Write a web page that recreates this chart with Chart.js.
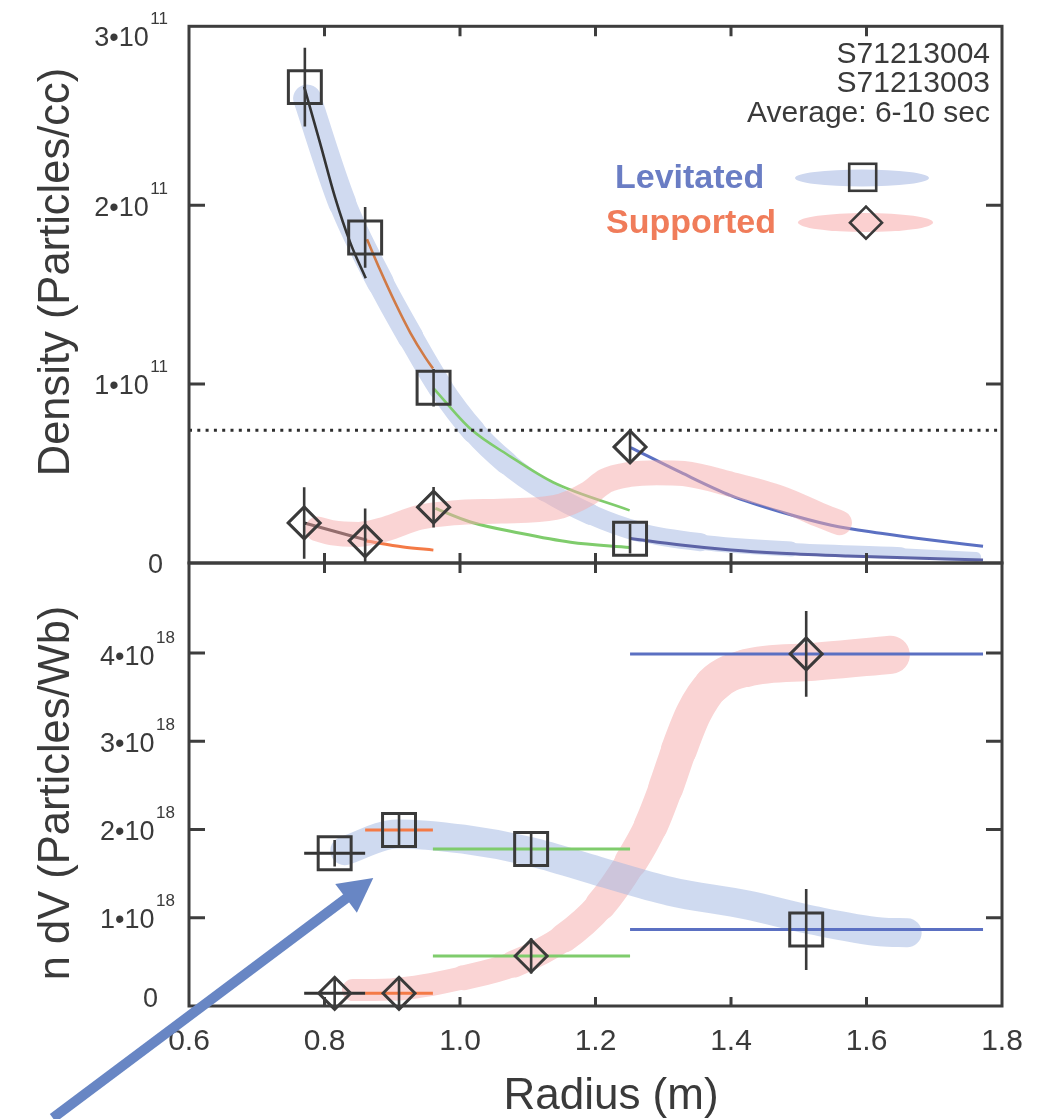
<!DOCTYPE html>
<html><head><meta charset="utf-8">
<script src="https://cdn.jsdelivr.net/npm/chart.js@4.4.1/dist/chart.umd.min.js"></script>
<style>
html,body{margin:0;padding:0;background:#fff;}
#wrap{position:relative;width:1048px;height:1119px;overflow:hidden;}
#wrap canvas{position:absolute;left:0;top:0;}
</style></head><body>
<div id="wrap"><canvas id="cTop" width="1048" height="1119"></canvas><canvas id="cBot" width="1048" height="1119"></canvas></div>
<script>
// ================= DATA =================
const xTicks = [0.6, 0.8, 1.0, 1.2, 1.4, 1.6, 1.8];
const xTickLabels = ['0.6', '0.8', '1.0', '1.2', '1.4', '1.6', '1.8'];
const densTicks = [0, 1e11, 2e11, 3e11];
const densTickMant = ['0', '1•10', '2•10', '3•10'];
const densTickExp = ['', '11', '11', '11'];
const ndvTicks = [0, 1e18, 2e18, 3e18, 4e18];
const ndvTickMant = ['0', '1•10', '2•10', '3•10', '4•10'];
const ndvTickExp = ['', '18', '18', '18', '18'];

// --- top panel: density (particles/cc) ---
const levR = [0.771, 0.860, 0.961, 1.251];
const levDens = [2.66e11, 1.82e11, 0.98e11, 0.136e11];
const levDensErr = [0.22e11, 0.17e11, 0.105e11, 0.083e11];
const supR = [0.770, 0.860, 0.961, 1.251];
const supDens = [0.224e11, 0.124e11, 0.312e11, 0.649e11];
const supDensErr = [0.20e11, 0.18e11, 0.113e11, 0.09e11];
const densThreshold = 0.742e11;

const fitLev1R = [0.770, 0.7936, 0.8158, 0.838, 0.8609];
const fitLev1N = [2.662e11, 2.346e11, 2.041e11, 1.791e11, 1.592e11];
const fitLev2R = [0.8627, 0.8823, 0.9045, 0.9267, 0.9489, 0.9602];
const fitLev2N = [1.810e11, 1.636e11, 1.453e11, 1.287e11, 1.148e11, 1.087e11];
const fitLev3R = [0.9607, 1.0154, 1.0745, 1.138, 1.2504];
const fitLev3N = [0.978e11, 0.75e11, 0.595e11, 0.45e11, 0.294e11];
const fitLev4R = [1.252, 1.326, 1.400, 1.474, 1.572, 1.772];
const fitLev4N = [0.137e11, 0.100e11, 0.072e11, 0.054e11, 0.039e11, 0.017e11];
const fitSup1R = [0.7704, 0.8627];
const fitSup1N = [0.2235e11, 0.1276e11];
const fitSup2R = [0.8602, 0.9163, 0.9607];
const fitSup2N = [0.124e11, 0.090e11, 0.072e11];
const fitSup3R = [0.9636, 1.0154, 1.0893, 1.1632, 1.2504];
const fitSup3N = [0.305e11, 0.229e11, 0.166e11, 0.116e11, 0.087e11];
const fitSup4R = [1.252, 1.326, 1.400, 1.474, 1.548, 1.621, 1.695, 1.772];
const fitSup4N = [0.645e11, 0.506e11, 0.377e11, 0.285e11, 0.211e11, 0.166e11, 0.128e11, 0.094e11];

const bandLevTopR = [0.7744, 0.8262, 0.8823, 0.9267, 0.971, 1.0198, 1.0686, 1.1262, 1.1928, 1.2667, 1.3554, 1.4884, 1.651, 1.7619];
const bandLevTopN = [2.596e11, 2.013e11, 1.570e11, 1.265e11, 0.982e11, 0.738e11, 0.560e11, 0.405e11, 0.272e11, 0.172e11, 0.116e11, 0.078e11, 0.055e11, 0.033e11];
const bandSupTopR = [0.79, 0.81, 0.85, 0.89, 0.94, 0.99, 1.06, 1.14, 1.19, 1.215, 1.25, 1.29, 1.33, 1.40, 1.474, 1.53, 1.56];
const bandSupTopN = [0.19e11, 0.17e11, 0.16e11, 0.19e11, 0.255e11, 0.28e11, 0.29e11, 0.31e11, 0.39e11, 0.46e11, 0.495e11, 0.505e11, 0.50e11, 0.44e11, 0.36e11, 0.27e11, 0.225e11];

// --- bottom panel: n dV (particles/Wb) ---
const binLo = [0.770, 0.860, 0.960, 1.251];
const binHi = [0.860, 0.960, 1.251, 1.772];
const binMid = [0.815, 0.910, 1.105, 1.511];
const levNdv = [1.73e18, 1.995e18, 1.78e18, 0.867e18];
const levNdvErr = [0.15e18, 0.17e18, 0.19e18, 0.46e18];
const supNdv = [0.144e18, 0.144e18, 0.567e18, 3.99e18];
const supNdvErr = [0.16e18, 0.16e18, 0.20e18, 0.485e18];

const bandLevBotR = [0.83, 0.907, 1.005, 1.104, 1.203, 1.31, 1.424, 1.522, 1.621, 1.66];
const bandLevBotN = [1.76e18, 1.95e18, 1.89e18, 1.75e18, 1.53e18, 1.30e18, 1.145e18, 0.97e18, 0.84e18, 0.83e18];
const bandSupBotR = [0.842, 0.907, 1.005, 1.079, 1.153, 1.2075, 1.252, 1.2815, 1.3036, 1.323, 1.345, 1.373, 1.422, 1.522, 1.636];
const bandSupBotN = [0.18e18, 0.19e18, 0.32e18, 0.475e18, 0.77e18, 1.145e18, 1.63e18, 2.04e18, 2.47e18, 2.90e18, 3.32e18, 3.64e18, 3.83e18, 3.90e18, 3.98e18];

const arrowFrom = [0.399, -1.27e18];
const arrowTo = [0.872, 1.45e18];

// ================= STYLE =================
const FONT = '"Liberation Sans", Arial, Helvetica, sans-serif';
const AXC = '#3d3d3d';
const TXT = '#3a3a3a';
const MK = '#3a3a3a';
const C_BLACK = '#333333', C_ORANGE = '#f47a46', C_GREEN = '#7fcc6c', C_BLUE = '#5b70c2', C_SLATE = '#5c63a6';
const binColors = [C_BLACK, C_ORANGE, C_GREEN, C_BLUE];
const BAND_BLUE = 'rgb(208,218,240)';
const BAND_PINK = 'rgb(250,212,212)';
const BAND_BLUE_A = 'rgba(160,182,226,0.5)';
const BAND_PINK_A = 'rgba(245,170,170,0.5)';
const levTopBandW = [28, 27, 26, 25, 24, 23, 22, 21, 20, 18, 15, 12, 10];
const supBotBandW = [22, 23, 25, 27, 29, 31, 33, 34, 35, 36, 36, 37, 38, 38];

const pts = (xs, ys) => xs.map((x, i) => ({x, y: ys[i]}));
const vbars = (xs, ys, es) => xs.flatMap((x, i) => [{x, y: ys[i] - es[i]}, {x, y: ys[i] + es[i]}, {x, y: null}]);

function fitLine(xs, ys, color, width) {
  return {data: pts(xs, ys), borderColor: color, borderWidth: width || 2.6, pointRadius: 0,
    cubicInterpolationMode: 'monotone', fill: false, order: 5, clip: 0};
}
function band(xs, ys, color, width, opts) {
  return Object.assign({data: pts(xs, ys), borderColor: color, borderWidth: width, pointRadius: 0,
    borderCapStyle: 'round', borderJoinStyle: 'round', cubicInterpolationMode: 'monotone',
    fill: false, clip: 0}, opts || {});
}
function markers(xs, ys, style, radius) {
  return {data: pts(xs, ys), showLine: false, pointStyle: style, pointRadius: radius, pointHoverRadius: radius,
    pointBorderWidth: 3, pointBorderColor: MK, pointBackgroundColor: 'rgba(0,0,0,0)', order: 0, clip: false};
}
function errLine(data, color, clip) {
  return {data, borderColor: color, borderWidth: 2.6, pointRadius: 0, spanGaps: false, tension: 0,
    fill: false, order: 1, clip: clip};
}

const compositePlugin = {
  id: 'composite',
  beforeDatasetDraw(chart, args) {
    const ds = chart.data.datasets[args.index];
    if (ds.composite) { chart.ctx.save(); chart.ctx.globalCompositeOperation = ds.composite; }
  },
  afterDatasetDraw(chart, args) {
    const ds = chart.data.datasets[args.index];
    if (ds.composite) chart.ctx.restore();
  }
};

function drawFrame(chart, cfg) {
  const {ctx, chartArea: a} = chart;
  const x = chart.scales.x, y = chart.scales.y;
  ctx.save();
  ctx.strokeStyle = AXC; ctx.lineWidth = 3; ctx.lineCap = 'butt';
  ctx.strokeRect(a.left, a.top, a.right - a.left, a.bottom - a.top);
  ctx.beginPath();
  xTicks.forEach(v => {
    const px = x.getPixelForValue(v);
    if (px <= a.left + 2 || px >= a.right - 2) return;
    ctx.moveTo(px, a.top); ctx.lineTo(px, a.top + cfg.tickTop);
    ctx.moveTo(px, a.bottom); ctx.lineTo(px, a.bottom - cfg.tickBot);
  });
  cfg.yTicks.forEach(v => {
    const py = y.getPixelForValue(v);
    if (py <= a.top + 2 || py >= a.bottom - 2) return;
    ctx.moveTo(a.left, py); ctx.lineTo(a.left + 16, py);
    ctx.moveTo(a.right, py); ctx.lineTo(a.right - 16, py);
  });
  ctx.stroke();
  // y tick labels with superscript exponent
  ctx.fillStyle = TXT; ctx.textBaseline = 'alphabetic'; ctx.textAlign = 'left';
  cfg.yTicks.forEach((v, i) => {
    const py = y.getPixelForValue(v) + cfg.yOff[i];
    const mant = cfg.mant[i], ex = cfg.exp[i];
    ctx.font = '27px ' + FONT;
    const wm = ctx.measureText(mant).width;
    if (!ex) { ctx.fillText(mant, cfg.zeroRight - wm, py + 9.7); return; }
    ctx.font = '17px ' + FONT;
    const we = ctx.measureText(ex).width;
    const x0 = cfg.labelRight - we - 1.5 - wm;
    ctx.font = '27px ' + FONT;
    ctx.fillText(mant, x0, py + 9.7);
    ctx.font = '17px ' + FONT;
    ctx.fillText(ex, x0 + wm + 1.5, py + 9.7 - 22);
  });
  // y title
  ctx.save();
  ctx.translate(69, cfg.titleY);
  ctx.rotate(-Math.PI / 2);
  ctx.font = '43.5px ' + FONT; ctx.textAlign = 'center';
  ctx.fillText(cfg.title, 0, 0);
  ctx.restore();
  ctx.restore();
}

const topDecor = {
  id: 'topDecor',
  afterDraw(chart) {
    drawFrame(chart, {tickTop: 10, tickBot: 10, yTicks: densTicks, mant: densTickMant, exp: densTickExp,
      yOff: [0.5, 0, 1.5, 9.5], labelRight: 168, zeroRight: 163, title: 'Density (Particles/cc)', titleY: 272});
    const ctx = chart.ctx;
    ctx.save();
    ctx.fillStyle = TXT; ctx.textAlign = 'right'; ctx.textBaseline = 'alphabetic';
    ctx.font = '30px ' + FONT;
    ctx.fillText('S71213004', 990, 62.5);
    ctx.fillText('S71213003', 990, 91.5);
    ctx.fillText('Average: 6-10 sec', 990, 121.5);
    // legend
    ctx.fillStyle = '#cdd7ef';
    ctx.beginPath(); ctx.ellipse(862, 178, 67, 8.5, 0, 0, Math.PI * 2); ctx.fill();
    ctx.fillStyle = '#fbd0d0';
    ctx.beginPath(); ctx.ellipse(865.5, 222.5, 67.5, 9.5, 0, 0, Math.PI * 2); ctx.fill();
    ctx.strokeStyle = MK; ctx.lineWidth = 2.6;
    ctx.strokeRect(849.2, 163.8, 27, 27);
    ctx.beginPath(); ctx.moveTo(850, 222.7); ctx.lineTo(866, 206.7); ctx.lineTo(882, 222.7); ctx.lineTo(866, 238.7); ctx.closePath(); ctx.stroke();
    ctx.textAlign = 'left'; ctx.font = 'bold 34px ' + FONT;
    ctx.fillStyle = '#6a7dc4'; ctx.fillText('Levitated', 615, 188);
    ctx.fillStyle = '#f07c5a'; ctx.fillText('Supported', 606, 233);
    ctx.restore();
  }
};

const botDecor = {
  id: 'botDecor',
  afterDraw(chart) {
    drawFrame(chart, {tickTop: 10, tickBot: 9, yTicks: ndvTicks, mant: ndvTickMant, exp: ndvTickExp,
      yOff: [-8.5, 0.5, 0.5, 1.5, 2.5], labelRight: 175, zeroRight: 158, title: 'n dV (Particles/Wb)', titleY: 793});
    const ctx = chart.ctx, x = chart.scales.x, y = chart.scales.y;
    ctx.save();
    ctx.fillStyle = TXT; ctx.textAlign = 'center'; ctx.textBaseline = 'alphabetic';
    ctx.font = '30px ' + FONT;
    xTicks.forEach((v, i) => ctx.fillText(xTickLabels[i], x.getPixelForValue(v), 1050));
    ctx.font = '44px ' + FONT;
    ctx.fillText('Radius (m)', 611, 1109);
    // arrow annotation
    const x0 = x.getPixelForValue(arrowFrom[0]), y0 = y.getPixelForValue(arrowFrom[1]);
    const x1 = x.getPixelForValue(arrowTo[0]), y1 = y.getPixelForValue(arrowTo[1]);
    const ang = Math.atan2(y1 - y0, x1 - x0);
    const hl = 34, hw = 18;
    const bx = x1 - hl * Math.cos(ang), by = y1 - hl * Math.sin(ang);
    ctx.strokeStyle = '#6886c4'; ctx.fillStyle = '#6886c4'; ctx.lineWidth = 10; ctx.lineCap = 'butt';
    ctx.beginPath(); ctx.moveTo(x0, y0); ctx.lineTo(bx + 2 * Math.cos(ang), by + 2 * Math.sin(ang)); ctx.stroke();
    ctx.beginPath();
    ctx.moveTo(x1, y1);
    ctx.lineTo(bx + hw * Math.sin(ang), by - hw * Math.cos(ang));
    ctx.lineTo(bx - hw * Math.sin(ang), by + hw * Math.cos(ang));
    ctx.closePath(); ctx.fill();
    ctx.restore();
  }
};

const baseOpts = (pad, ymax) => ({
  responsive: false, animation: false, devicePixelRatio: 1, events: [],
  layout: {padding: pad},
  plugins: {legend: {display: false}, tooltip: {enabled: false}},
  scales: {
    x: {type: 'linear', min: 0.6, max: 1.8, display: false},
    y: {type: 'linear', min: 0, max: ymax, display: false}
  }
});

// ----- top chart -----
new Chart(document.getElementById('cTop'), {
  type: 'line',
  data: {datasets: [
    fitLine(fitLev1R, fitLev1N, C_BLACK),
    fitLine(fitLev2R, fitLev2N, C_ORANGE),
    fitLine(fitLev3R, fitLev3N, C_GREEN),
    fitLine(fitLev4R, fitLev4N, C_SLATE, 3),
    fitLine(fitSup1R, fitSup1N, C_BLACK, 3),
    fitLine(fitSup2R, fitSup2N, C_ORANGE, 3),
    fitLine(fitSup3R, fitSup3N, C_GREEN, 3),
    fitLine(fitSup4R, fitSup4N, C_BLUE, 3),
    band(bandLevTopR, bandLevTopN, BAND_BLUE, 24, {order: 4, composite: 'darken',
      segment: {borderWidth: c => levTopBandW[c.p0DataIndex]}}),
    band(bandSupTopR, bandSupTopN, BAND_PINK_A, 25, {order: 3}),
    {data: [{x: 0.6, y: densThreshold}, {x: 1.8, y: densThreshold}], borderColor: '#2e2e2e', borderWidth: 3,
      borderDash: [3, 5.3], pointRadius: 0, order: 2, clip: 0},
    errLine(vbars(levR, levDens, levDensErr), MK, 0),
    errLine(vbars(supR, supDens, supDensErr), MK, 0),
    markers(levR, levDens, 'rect', 23.3),
    markers(supR, supDens, 'rectRot', 16)
  ]},
  options: baseOpts({left: 189, right: 46, top: 22, bottom: 556}, 3e11),
  plugins: [compositePlugin, topDecor]
});

// ----- bottom chart -----
const hbarSets = binLo.map((lo, i) => errLine([
  {x: lo, y: levNdv[i]}, {x: binHi[i], y: levNdv[i]}, {x: binHi[i], y: null},
  {x: lo, y: supNdv[i]}, {x: binHi[i], y: supNdv[i]}], binColors[i], false));
hbarSets.forEach(d => { d.order = 2; d.borderWidth = 3; });

new Chart(document.getElementById('cBot'), {
  type: 'line',
  data: {datasets: [
    band(bandSupBotR, bandSupBotN, BAND_PINK, 30, {order: 5, composite: 'darken',
      segment: {borderWidth: c => supBotBandW[c.p0DataIndex]}}),
    band(bandLevBotR, bandLevBotN, BAND_BLUE_A, 29, {order: 4}),
    ...hbarSets,
    errLine(vbars(binMid, levNdv, levNdvErr), MK, false),
    errLine(vbars(binMid, supNdv, supNdvErr), MK, false),
    markers(binMid, levNdv, 'rect', 23.3),
    markers(binMid, supNdv, 'rectRot', 16)
  ]},
  options: baseOpts({left: 189, right: 46, top: 563, bottom: 113}, 5.02e18),
  plugins: [compositePlugin, botDecor]
});
</script>
</body></html>
